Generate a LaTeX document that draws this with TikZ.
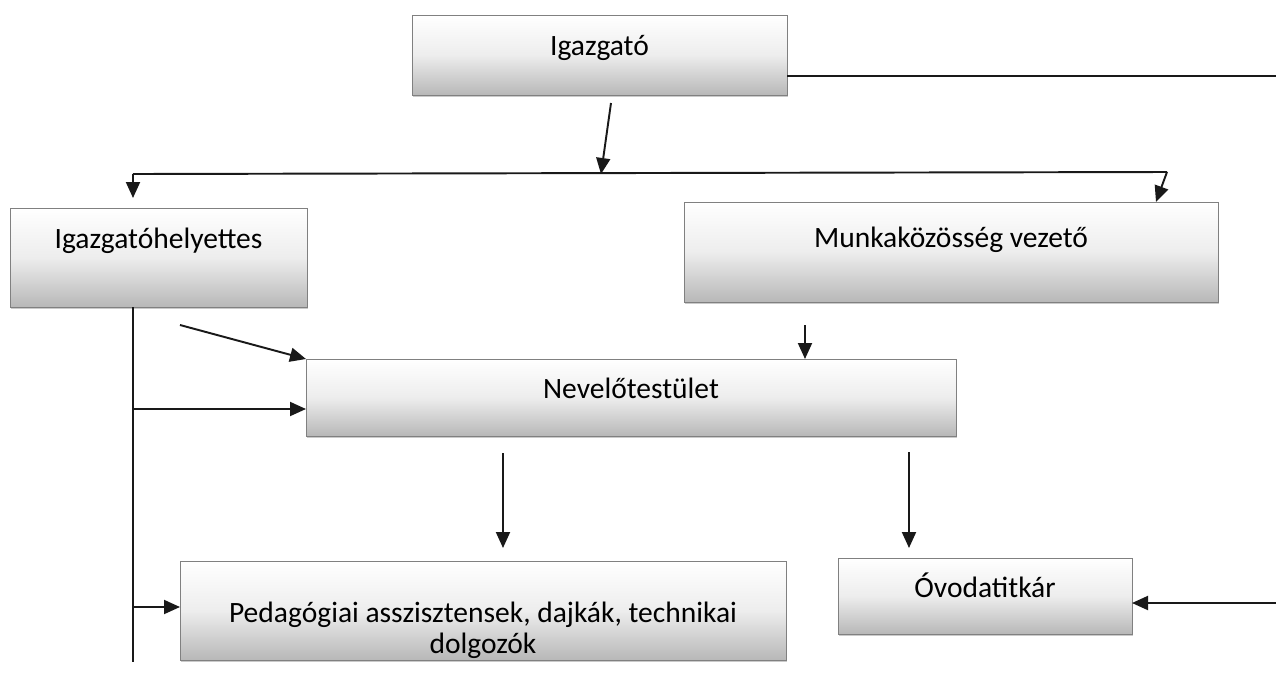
\documentclass[tikz,border=0pt]{standalone}
\usepackage{fontspec}
\setmainfont{Carlito}
\usetikzlibrary{arrows.meta,calc,shadows}

\begin{document}
\begin{tikzpicture}[
  x=0.02cm, y=-0.02cm,
  orgbox/.style={draw=black!50, line width=0.5pt,
    top color=white, bottom color=black!28, middle color=black!7,
    drop shadow={shadow xshift=0.5pt, shadow yshift=-1.2pt, fill=black!35, opacity=0.6},
    inner sep=0pt, outer sep=0pt},
  lbl/.style={font=\fontsize{16.8}{17.4}\selectfont, inner sep=0pt, anchor=base},
  link/.style={line width=1.1pt, draw=black!90},
  arr/.style={link, -{Triangle[length=0.32cm, width=0.28cm]}}
]
\useasboundingbox (0,0) rectangle (1276,677);

% boxes
\node[orgbox, minimum width=375*0.02cm, minimum height=80*0.02cm] (igaz) at (599.5,55) {};
\node[orgbox, minimum width=297*0.02cm, minimum height=99*0.02cm] (ihely) at (158.5,257.5) {};
\node[orgbox, minimum width=534*0.02cm, minimum height=100*0.02cm] (munka) at (951,252) {};
\node[orgbox, minimum width=650*0.02cm, minimum height=77*0.02cm] (nevelo) at (631,397.5) {};
\node[orgbox, minimum width=606*0.02cm, minimum height=99*0.02cm] (pedag) at (483,610.5) {};
\node[orgbox, minimum width=294*0.02cm, minimum height=76*0.02cm] (ovoda) at (985,596) {};

% labels
\node[lbl] (tigaz) at (599.5,55) {Igazgató};
\node[lbl] (tihely) at (158.5,248) {Igazgatóhelyettes};
\node[lbl] (tmunka) at (951,247) {Munkaközösség vezető};
\node[lbl] (tnevelo) at (631,398) {Nevelőtestület};
\node[lbl, align=center, anchor=center] (tpedag) at (483,630) {Pedagógiai asszisztensek, dajkák, technikai\\dolgozók};
\node[lbl] (tovoda) at (985,597) {Óvodatitkár};

% free ends and bends
\coordinate (rtop) at (1276,76);
\coordinate (igazout) at (611,103);
\coordinate (split) at (601,174);
\coordinate (busL) at (133,174);
\coordinate (busR) at (1167,172);
\coordinate (mtip) at (1156,202);
\coordinate (mout) at (805,325);
\coordinate (diag) at (180,325);
\coordinate (spine) at (133,662);
\coordinate (tap1) at (133,409);
\coordinate (tap2) at (133,607);
\coordinate (nout1) at (503,453);
\coordinate (nout2) at (909,452);
\coordinate (rbot) at (1276,603);

% connectors
\draw[link] (igaz.east |- rtop) -- (rtop);
\draw[arr] (igazout) -- (split);
\draw[link] (busL) -- (busR);
\draw[arr, shorten >=0.2cm] (busL) -- (busL |- ihely.north);
\draw[arr] (busR) -- (mtip |- munka.north);
\draw[arr] (mout) -- (mout |- nevelo.north);
\draw[arr] (diag) -- (nevelo.north west);
\draw[link] (ihely.south -| spine) -- (spine);
\draw[arr] (tap1) -- (tap1 -| nevelo.west);
\draw[arr] (tap2) -- (tap2 -| pedag.west);
\draw[arr, shorten >=0.26cm] (nout1) -- (nout1 |- pedag.north);
\draw[arr, shorten >=0.2cm] (nout2) -- (nout2 |- ovoda.north);
\draw[arr] (rbot) -- (rbot -| ovoda.east);
\end{tikzpicture}
\end{document}
